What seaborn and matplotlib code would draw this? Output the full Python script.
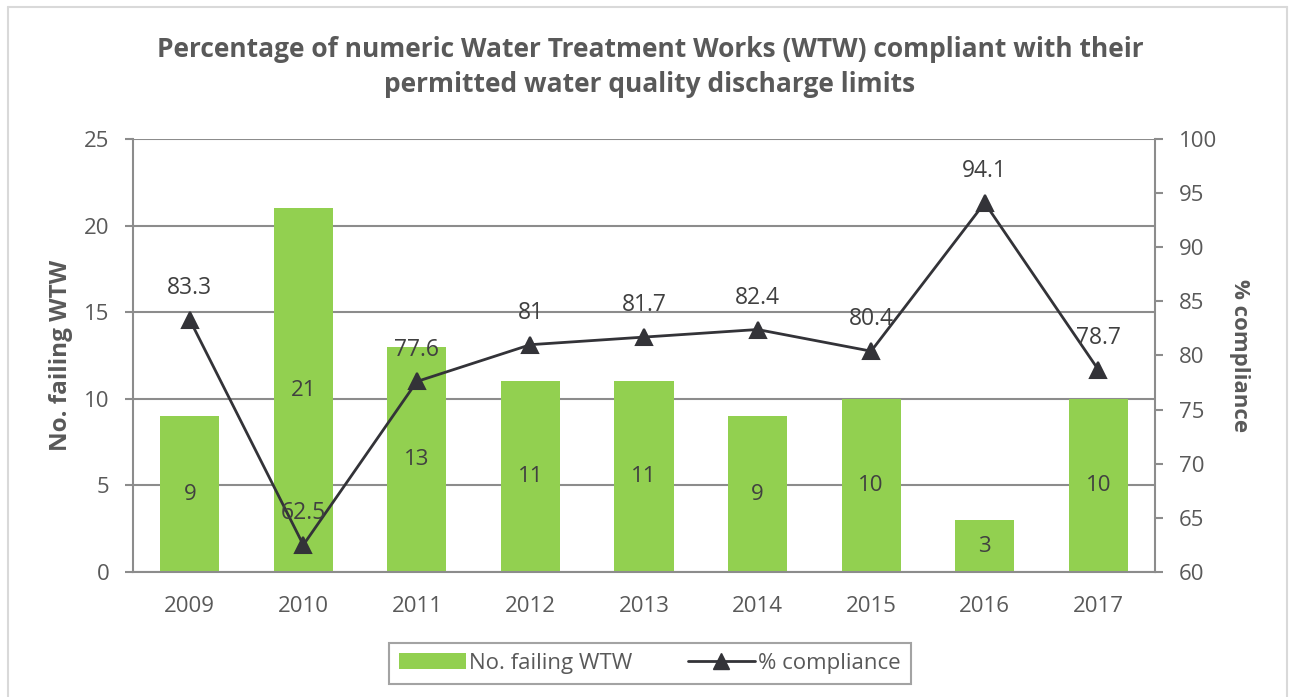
import numpy as np
import pandas as pd
import matplotlib
matplotlib.use("Agg")
import matplotlib.pyplot as plt
from matplotlib.lines import Line2D
from matplotlib.patches import Patch
import seaborn as sns

# -----------------------------------
# DATA
# -----------------------------------

years = ["2009", "2010", "2011", "2012", "2013", "2014", "2015", "2016", "2017"]
failing_wtw = [9, 21, 13, 11, 11, 9, 10, 3, 10]
compliance = [83.3, 62.5, 77.6, 81, 81.7, 82.4, 80.4, 94.1, 78.7]

title = ("Percentage of numeric Water Treatment Works (WTW) compliant with their\n"
         "permitted water quality discharge limits")

df = pd.DataFrame({"year": years, "failing": failing_wtw, "compliance": compliance})

# -----------------------------------
# STYLE
# -----------------------------------

sns.set_style("white")
plt.rcParams["font.family"] = ["Open Sans", "DejaVu Sans"]

grey_text = "#595959"
dark_text = "#404040"
axis_grey = "#8c8c8c"
bar_green = "#92D050"
line_col = "#333338"

fig = plt.figure(figsize=(12.95, 6.97), dpi=100)
ax = fig.add_axes([133 / 1295, 125 / 697, 1022 / 1295, 433 / 697])

# bars
sns.barplot(data=df, x="year", y="failing", color=bar_green, saturation=1,
            width=0.52, linewidth=0, ax=ax, zorder=2)

ax.set_ylim(0, 25)
ax.set_yticks(np.arange(0, 26, 5))
ax.set_xlim(-0.5, len(years) - 0.5)
ax.yaxis.grid(True, color=axis_grey, linewidth=1.5)
ax.set_axisbelow(True)

for c in ax.containers:
    ax.bar_label(c, label_type="center", fontsize=16, color=dark_text)

ax.set_xlabel("")
ax.set_ylabel("No. failing WTW", fontsize=17.5, fontweight="bold",
              color=grey_text, labelpad=8)

for side in ["top", "right"]:
    ax.spines[side].set_visible(False)
for side in ["left", "bottom"]:
    ax.spines[side].set_color(axis_grey)
    ax.spines[side].set_linewidth(1.5)

ax.tick_params(axis="y", left=True, length=6, width=1.5, color=axis_grey,
               labelsize=16, labelcolor=grey_text, pad=11)
ax.tick_params(axis="x", bottom=False, labelsize=16, labelcolor=grey_text, pad=14)

# line on secondary axis
ax2 = ax.twinx()
sns.pointplot(data=df, x="year", y="compliance", color=line_col, markers="^",
              linestyles="-", linewidth=2, markersize=11, ax=ax2)
ax2.set_xlim(-0.5, len(years) - 0.5)
ax2.set_ylim(60, 100)
ax2.set_yticks(np.arange(60, 101, 5))
ax2.set_ylabel("% compliance", fontsize=16, fontweight="bold", color=grey_text,
               rotation=270, labelpad=24)
ax2.set_xlabel("")

for side in ["top", "left", "bottom"]:
    ax2.spines[side].set_visible(False)
ax2.spines["right"].set_color(axis_grey)
ax2.spines["right"].set_linewidth(1.5)
ax2.tick_params(axis="y", right=True, length=6, width=1.5, color=axis_grey,
                labelsize=16, labelcolor=grey_text, pad=11)

for i, v in enumerate(compliance):
    ax2.annotate(f"{v:g}", (i, v), xytext=(0, 23), textcoords="offset points",
                 ha="center", va="center", fontsize=16.5, color=dark_text)

# title
fig.text(650 / 1295, 1 - 67 / 697, title, ha="center", va="center",
         fontsize=19, fontweight="bold", color=grey_text, linespacing=1.35)

# legend
handles = [
    Patch(facecolor=bar_green, edgecolor="none", label="No. failing WTW"),
    Line2D([0], [0], color=line_col, lw=2, marker="^", markersize=11,
           label="% compliance"),
]
leg = fig.legend(handles=handles, loc="center", bbox_to_anchor=(650 / 1295, 1 - 663 / 697),
                 ncol=2, frameon=True, fancybox=False, fontsize=16,
                 handlelength=3, columnspacing=2.5, handletextpad=0.15,
                 borderpad=0.45, borderaxespad=0)
leg.get_frame().set_edgecolor(axis_grey)
leg.get_frame().set_linewidth(1.5)
for t in leg.get_texts():
    t.set_color(grey_text)

# outer border of chart area
border = "#d9d9d9"
fig.add_artist(Line2D([8 / 1295, 8 / 1295], [0, 1 - 7 / 697], color=border, lw=1.5))
fig.add_artist(Line2D([8 / 1295, 1287 / 1295], [1 - 7 / 697, 1 - 7 / 697], color=border, lw=1.5))
fig.add_artist(Line2D([1287 / 1295, 1287 / 1295], [0, 1 - 7 / 697], color=border, lw=1.5))

fig.savefig("out.png", dpi=100)
